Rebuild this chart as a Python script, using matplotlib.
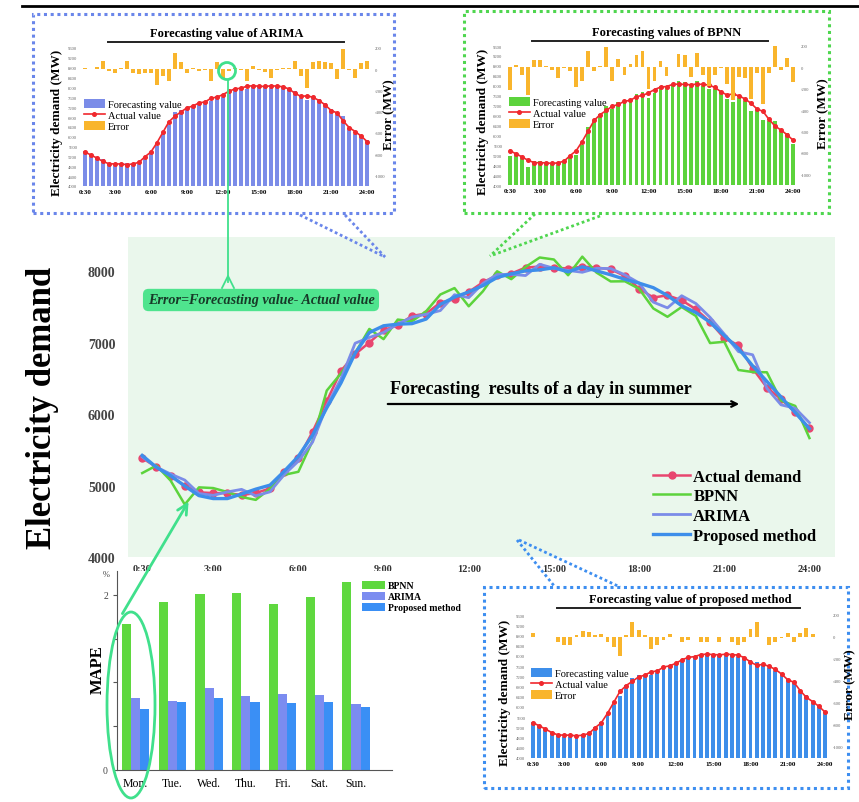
import numpy as np
import matplotlib
matplotlib.use("Agg")
import matplotlib.pyplot as plt
from matplotlib.lines import Line2D
from matplotlib.patches import Patch, Rectangle, Ellipse

plt.rcParams['font.family'] = ['Liberation Serif', 'DejaVu Serif']

W, H = 859, 803

# half-hourly load of one summer day (MW), 0:30 ... 24:00
times = ['0:30', '3:00', '6:00', '9:00', '12:00', '15:00', '18:00', '21:00', '24:00']
time_idx = [0, 5, 11, 17, 23, 29, 35, 41, 47]

actual = [5385, 5259, 5137, 4997, 4905, 4895, 4895, 4867, 4895, 4960, 5185, 5380,
          5752, 6180, 6606, 6839, 7003, 7175, 7245, 7375, 7408, 7562, 7608, 7711,
          7846, 7944, 7968, 8052, 8066, 8052, 8038, 8066, 8052, 8028, 7934, 7757,
          7632, 7664, 7594, 7469, 7291, 7063, 6965, 6639, 6373, 6210, 6024, 5800]
bpnn = [5175, 5280, 5070, 4735, 4975, 4965, 4910, 4840, 4800, 4955, 5150, 5193,
        5625, 6330, 6570, 6855, 7193, 7050, 7324, 7300, 7440, 7675, 7765, 7510,
        7720, 8000, 7890, 8060, 8193, 8165, 7945, 8205, 7982, 7858, 7860, 7755,
        7480, 7363, 7500, 7374, 6995, 7013, 6618, 6590, 6586, 6190, 6115, 5665]
arima = [5401, 5259, 5162, 5077, 4889, 4863, 4911, 4947, 4857, 4912, 5153, 5342,
         5608, 6116, 6494, 6993, 7073, 7143, 7261, 7359, 7398, 7450, 7672, 7631,
         7830, 7954, 7958, 7940, 8098, 8042, 8012, 7986, 8042, 8038, 7950, 7837,
         7568, 7488, 7658, 7549, 7355, 7121, 6875, 6831, 6363, 6130, 6082, 5880]
proposed = [5422, 5256, 5137, 4994, 4859, 4818, 4818, 4882, 4950, 5006, 5200, 5410,
            5706, 6088, 6436, 6854, 7142, 7237, 7260, 7267, 7331, 7537, 7638, 7711,
            7800, 7913, 7965, 8006, 8020, 8049, 7992, 8063, 8006, 7951, 7888, 7834,
            7771, 7661, 7517, 7423, 7286, 7100, 6919, 6676, 6459, 6240, 6021, 5797]

# weekly MAPE (%)
days = ['Mon.', 'Tue.', 'Wed.', 'Thu.', 'Fri.', 'Sat.', 'Sun.']
mape_bpnn = [1.66, 1.92, 2.01, 2.02, 1.89, 1.97, 2.14]
mape_arima = [0.82, 0.79, 0.94, 0.84, 0.87, 0.86, 0.75]
mape_prop = [0.70, 0.77, 0.82, 0.77, 0.76, 0.77, 0.72]

C_ACT = '#e8466f'
C_BP = '#5cd33c'
C_AR = '#7b8ce8'
C_PR = '#3d8eea'
C_ERR = '#f9b52c'
C_LINK = '#40e08c'


def fr(x0, y0, x1, y1):
    return [x0 / W, 1 - y1 / H, (x1 - x0) / W, (y1 - y0) / H]


def fx(x):
    return x / W


def fy(y):
    return 1 - y / H


def fline(xs, ys, **kw):
    fig.add_artist(Line2D([fx(v) for v in xs], [fy(v) for v in ys],
                          transform=fig.transFigure, **kw))


def dotted_box(x0, y0, x1, y1, color):
    fig.add_artist(Rectangle((fx(x0), fy(y1)), (x1 - x0) / W, (y1 - y0) / H,
                             transform=fig.transFigure, fill=False,
                             edgecolor=color, lw=2.2, linestyle=(0, (1, 1.2))))


fig = plt.figure(figsize=(W / 100, H / 100), dpi=100)

# top rule
fline([22, 859], [7, 7], color='black', lw=2)

# ---------------- main chart ----------------
ax = fig.add_axes(fr(128, 238, 835, 558))
ax.set_facecolor('#eaf7ec')
x = np.arange(len(actual))
h_act, = ax.plot(x, actual, color=C_ACT, lw=1.8, marker='o', ms=5, zorder=2)
h_bp, = ax.plot(x, bpnn, color=C_BP, lw=1.8, zorder=3)
h_ar, = ax.plot(x, arima, color=C_AR, lw=2.0, zorder=4)
h_pr, = ax.plot(x, proposed, color=C_PR, lw=2.4, zorder=5)
ax.set_xlim(-1, 48.8)
ax.set_ylim(4000, 8480)
ax.set_yticks([4000, 5000, 6000, 7000, 8000])
ax.set_yticklabels(['4000', '5000', '6000', '7000', '8000'],
                   fontsize=10, fontweight='bold', color='#444444')
ax.set_xticks(time_idx)
ax.set_xticklabels(times, fontsize=7.5, fontweight='bold', color='#333333')
ax.tick_params(axis='y', length=0, pad=9)
ax.tick_params(axis='x', length=0, pad=5)
for s in ax.spines.values():
    s.set_visible(False)
ax.legend([h_act, h_bp, h_ar, h_pr],
          ['Actual demand', 'BPNN', 'ARIMA', 'Proposed method'],
          loc='lower right', bbox_to_anchor=(0.995, -0.005), frameon=False,
          prop={'size': 12, 'weight': 'bold'}, handlelength=2.2,
          labelspacing=0.22, handletextpad=0.2)

fig.text(fx(43), fy(408), 'Electricity demand', rotation=90, fontsize=25,
         fontweight='bold', ha='center', va='center')

fig.text(fx(390), fy(390), 'Forecasting  results of a day in summer',
         fontsize=13, fontweight='bold', ha='left', va='center')
ax.annotate('', xy=(fx(742), fy(405)), xytext=(fx(385), fy(405)),
            xycoords='figure fraction', textcoords='figure fraction',
            arrowprops=dict(arrowstyle='->', lw=1.6, color='black'))

fig.text(fx(261), fy(301), 'Error=Forecasting value- Actual value',
         fontsize=10.2, fontstyle='italic', fontweight='bold', color='#173a28',
         ha='center', va='center',
         bbox=dict(boxstyle='round,pad=0.33,rounding_size=0.4',
                   facecolor='#4fe48e', edgecolor='none'))


# ---------------- insets ----------------
def inset(rect, forecast, bar_color, title, tcx, ty, ul, ylx, erx, leg):
    a = fig.add_axes(fr(*rect))
    a.patch.set_alpha(0)
    a.bar(x, np.array(forecast) - 4000, bottom=4000, width=0.62,
          color=bar_color, zorder=1)
    a.plot(x, actual, color='#f0282d', lw=1.2, marker='o', ms=2.6, zorder=3)
    a.set_xlim(-0.8, 47.8)
    a.set_ylim(4000, 9600)
    yt = list(range(4000, 9601, 400))
    a.set_yticks(yt)
    a.set_yticklabels([str(v) for v in yt], fontsize=3.3, color='#666666')
    a.set_xticks(time_idx)
    a.set_xticklabels(times, fontsize=5, fontweight='bold')
    a.tick_params(length=0, pad=2)

    b = a.twinx()
    err = np.array(forecast) - np.array(actual)
    b.bar(x, err, width=0.62, color=C_ERR, zorder=2)
    b.set_ylim(-1100, 200)
    et = [-1000, -800, -600, -400, -200, 0, 200]
    b.set_yticks(et)
    b.set_yticklabels([str(v) for v in et], fontsize=3.3, color='#666666')
    b.tick_params(length=0, pad=2)
    for s in list(a.spines.values()) + list(b.spines.values()):
        s.set_visible(False)

    handles = [Patch(facecolor=bar_color),
               Line2D([], [], color='#f0282d', lw=1.2, marker='o', ms=2.6),
               Patch(facecolor=C_ERR)]
    b.legend(handles, ['Forecasting value', 'Actual value', 'Error'],
             loc='upper left',
             bbox_to_anchor=((leg[0] - rect[0]) / (rect[2] - rect[0]),
                             1 - (leg[1] - rect[1]) / (rect[3] - rect[1])),
             frameon=False, fontsize=7.5, handlelength=2.0, handleheight=0.9,
             labelspacing=0.1, handletextpad=0.3, borderpad=0, borderaxespad=0)

    fig.text(fx(tcx), fy(ty), title, fontsize=9, fontweight='bold',
             ha='center', va='center')
    fline([ul[0], ul[1]], [ty + 9, ty + 9], color='#222222', lw=1.4)
    cy = (rect[1] + rect[3]) / 2 + 5
    fig.text(fx(ylx), fy(cy), 'Electricity demand (MW)', rotation=90,
             fontsize=9.5, fontweight='bold', ha='center', va='center')
    fig.text(fx(erx), fy(cy - 8), 'Error (MW)', rotation=90,
             fontsize=9.5, fontweight='bold', ha='center', va='center')
    return a


a_ar = inset((80, 49, 372, 187), arima, C_AR, 'Forecasting value of ARIMA',
             227, 34, (108, 344), 57, 389, (84, 100))
a_bp = inset((505, 47, 798, 186), bpnn, C_BP, 'Forecasting values of BPNN',
             667, 33, (532, 768), 483, 823, (509, 98))
a_pr = inset((528, 616, 830, 759), proposed, C_PR,
             'Forecasting value of proposed method',
             690, 600, (557, 800), 505, 850, (531, 669))

dotted_box(33, 15, 394, 214, '#6a86ea')
dotted_box(464, 12, 829, 214, '#4fd64f')
dotted_box(484, 588, 848, 789, '#3d8ef0')

# callout links to the main chart
fline([300, 385], [216, 258], color='#6a86ea', lw=2, linestyle=(0, (1, 1)))
fline([345, 385], [216, 258], color='#6a86ea', lw=2, linestyle=(0, (1, 1)))
fline([535, 490], [215, 257], color='#4fd64f', lw=2, linestyle=(0, (1, 1)))
fline([600, 490], [217, 257], color='#4fd64f', lw=2, linestyle=(0, (1, 1)))
fline([517, 555], [541, 588], color='#3d8ef0', lw=2, linestyle=(0, (1, 1)))
fline([519, 620], [541, 588], color='#3d8ef0', lw=2, linestyle=(0, (1, 1)))

# error marker in the ARIMA inset and its pointer to the formula box
fig.add_artist(Ellipse((fx(227), fy(72)), 17 / W, 17 / H, transform=fig.transFigure,
                       fill=False, edgecolor=C_LINK, lw=2))
fline([228, 228], [81, 283], color=C_LINK, lw=1.3)
fline([222, 228, 234], [289, 277, 289], color=C_LINK, lw=1.3)

# ---------------- weekly MAPE ----------------
m = fig.add_axes(fr(117, 572, 392, 771))
g = np.arange(len(days))
m.bar(g - 0.25, mape_bpnn, width=0.25, color='#5fd83f', label='BPNN')
m.bar(g, mape_arima, width=0.25, color='#7b8cf0', label='ARIMA')
m.bar(g + 0.25, mape_prop, width=0.25, color='#3a8ff5', label='Proposed method')
m.set_xlim(-0.51, 6.98)
m.set_ylim(0, 2.27)
m.set_yticks([0, 0.5, 1, 1.5, 2])
m.set_yticklabels(['0', '', '', '', '2'], fontsize=7, color='#444444')
m.set_xticks(g)
m.set_xticklabels(days, fontsize=8.5)
m.tick_params(axis='y', length=3, width=0.8, color='#555555')
m.tick_params(axis='x', length=0, pad=5)
m.spines['top'].set_visible(False)
m.spines['right'].set_visible(False)
m.spines['left'].set_color('#555555')
m.spines['bottom'].set_color('#555555')
m.legend(loc='upper left', bbox_to_anchor=(0.89, 0.95), frameon=False,
         prop={'size': 7, 'weight': 'bold'}, handlelength=2.4, handleheight=0.9,
         labelspacing=0.15, handletextpad=0.3, borderpad=0, borderaxespad=0)
fig.text(fx(98), fy(670), 'MAPE', rotation=90, fontsize=12, fontweight='bold',
         ha='center', va='center')
fig.text(fx(106), fy(575), '%', fontsize=6, color='#444444', ha='center', va='center')

fig.add_artist(Ellipse((fx(131), fy(706)), 48 / W, 186 / H, transform=fig.transFigure,
                       fill=False, edgecolor=C_LINK, lw=2))
m.annotate('', xy=(fx(190), fy(500)), xytext=(fx(121), fy(617)),
           xycoords='figure fraction', textcoords='figure fraction',
           arrowprops=dict(arrowstyle='->', lw=2, color=C_LINK,
                           mutation_scale=18))

fig.savefig('out.png', dpi=100)
